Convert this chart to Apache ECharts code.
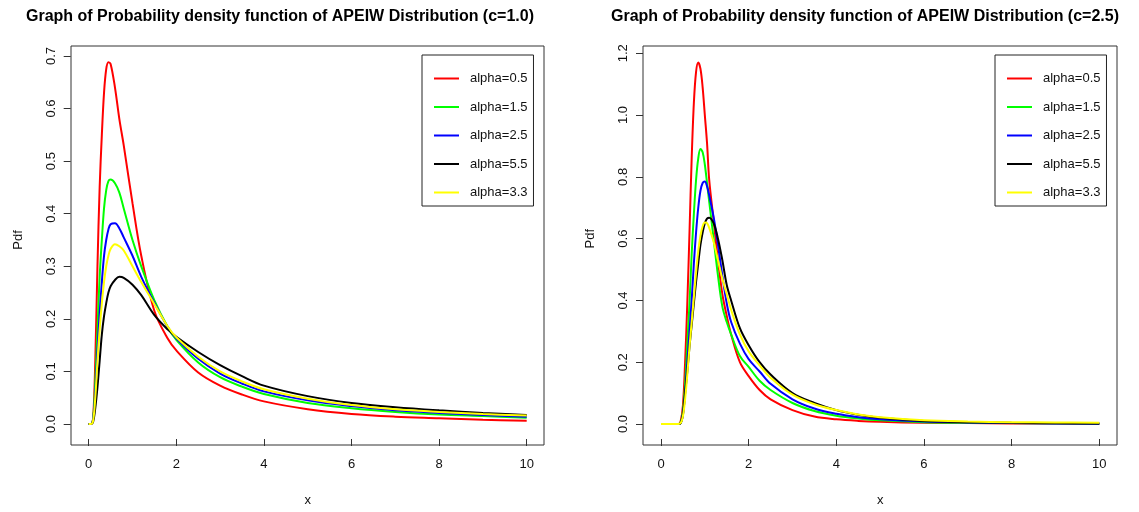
<!DOCTYPE html>
<html>
<head>
<meta charset="utf-8">
<script src="https://cdn.jsdelivr.net/npm/echarts@6/dist/echarts.min.js"></script>
<style>
  html, body { margin: 0; padding: 0; background: #fff; }
  #chart { width: 1139px; height: 512px; }
</style>
</head>
<body>
<div id="chart"></div>
<script>
// legend names / colours, same for both panels
const seriesNames = ['alpha=0.5', 'alpha=1.5', 'alpha=2.5', 'alpha=5.5', 'alpha=3.3']
const seriesColors = ['#ff0000', '#00ff00', '#0000ff', '#000000', '#ffff00']

// left panel (c=1.0)
const xLeft = [0, 0.05, 0.1, 0.15, 0.2, 0.25, 0.3, 0.35, 0.4, 0.45, 0.5, 0.6, 0.7, 0.8, 1.0, 1.2, 1.5, 1.8, 2, 2.5, 3, 3.5, 4, 5, 6, 7, 8, 9, 10]
const left05 = [0, 0, 0.01, 0.12, 0.3, 0.45, 0.55, 0.63, 0.675, 0.688, 0.685, 0.64, 0.58, 0.53, 0.42, 0.32, 0.215, 0.163, 0.14, 0.098, 0.073, 0.056, 0.043, 0.028, 0.019, 0.014, 0.011, 0.008, 0.006]
const left15 = [0, 0, 0.01, 0.08, 0.18, 0.28, 0.35, 0.41, 0.445, 0.462, 0.465, 0.458, 0.44, 0.41, 0.35, 0.3, 0.235, 0.185, 0.16, 0.117, 0.089, 0.071, 0.057, 0.04, 0.03, 0.023, 0.018, 0.015, 0.012]
const left25 = [0, 0, 0.008, 0.06, 0.14, 0.21, 0.27, 0.32, 0.35, 0.37, 0.38, 0.382, 0.372, 0.355, 0.32, 0.28, 0.23, 0.185, 0.163, 0.124, 0.096, 0.077, 0.062, 0.045, 0.034, 0.026, 0.021, 0.017, 0.014]
const left55 = [0, 0, 0.004, 0.03, 0.07, 0.12, 0.17, 0.205, 0.23, 0.25, 0.262, 0.274, 0.28, 0.278, 0.265, 0.245, 0.207, 0.18, 0.166, 0.137, 0.112, 0.091, 0.073, 0.053, 0.04, 0.032, 0.026, 0.021, 0.017]
const left33 = [0, 0, 0.006, 0.05, 0.12, 0.18, 0.23, 0.27, 0.3, 0.32, 0.333, 0.342, 0.338, 0.33, 0.3, 0.27, 0.228, 0.186, 0.165, 0.128, 0.1, 0.081, 0.066, 0.048, 0.036, 0.028, 0.023, 0.019, 0.016]

// right panel (c=2.5)
const xRight = [0, 0.3, 0.4, 0.45, 0.5, 0.55, 0.6, 0.65, 0.7, 0.75, 0.8, 0.85, 0.9, 0.95, 1.0, 1.05, 1.1, 1.2, 1.3, 1.4, 1.5, 1.6, 1.8, 2.0, 2.25, 2.5, 3, 3.5, 4, 4.5, 5, 6, 7, 8, 9, 10]
const right05 = [0, 0, 0, 0.01, 0.06, 0.2, 0.39, 0.62, 0.86, 1.04, 1.14, 1.17, 1.15, 1.09, 1.0, 0.91, 0.79, 0.66, 0.53, 0.42, 0.35, 0.29, 0.2, 0.155, 0.11, 0.08, 0.045, 0.024, 0.015, 0.01, 0.007, 0.004, 0.003, 0.002, 0.001, 0.001]
const right15 = [0, 0, 0, 0.005, 0.04, 0.13, 0.26, 0.39, 0.55, 0.68, 0.79, 0.86, 0.89, 0.88, 0.84, 0.78, 0.72, 0.6, 0.48, 0.38, 0.33, 0.29, 0.22, 0.185, 0.14, 0.11, 0.068, 0.042, 0.027, 0.018, 0.012, 0.006, 0.004, 0.003, 0.002, 0.001]
const right25 = [0, 0, 0, 0.003, 0.03, 0.1, 0.2, 0.3, 0.4, 0.52, 0.62, 0.7, 0.755, 0.78, 0.785, 0.77, 0.74, 0.67, 0.58, 0.48, 0.39, 0.33, 0.26, 0.21, 0.17, 0.13, 0.08, 0.05, 0.033, 0.022, 0.015, 0.008, 0.005, 0.003, 0.002, 0.001]
const right55 = [0, 0, 0, 0.003, 0.03, 0.1, 0.17, 0.25, 0.32, 0.39, 0.46, 0.52, 0.58, 0.62, 0.65, 0.665, 0.668, 0.65, 0.6, 0.53, 0.45, 0.4, 0.31, 0.255, 0.2, 0.16, 0.1, 0.068, 0.045, 0.03, 0.02, 0.01, 0.006, 0.004, 0.003, 0.002]
const right33 = [0, 0, 0, 0.003, 0.025, 0.08, 0.16, 0.25, 0.33, 0.41, 0.49, 0.56, 0.61, 0.64, 0.652, 0.65, 0.635, 0.59, 0.53, 0.47, 0.42, 0.37, 0.29, 0.235, 0.19, 0.15, 0.095, 0.064, 0.045, 0.031, 0.022, 0.012, 0.008, 0.006, 0.005, 0.004]

const leftSets = [left05, left15, left25, left55, left33]
const rightSets = [right05, right15, right25, right55, right33]

const chart = echarts.init(document.getElementById('chart'))

const font = 'Liberation Sans, Arial, sans-serif'
const textColor = '#111'

const makeSeries = (xs, sets, gridNo) =>
  sets.map((ys, i) => ({
    name: seriesNames[i],
    type: 'line',
    xAxisIndex: gridNo,
    yAxisIndex: gridNo,
    data: xs.map((x, k) => [x, ys[k]]),
    smooth: 0.35,
    showSymbol: false,
    symbol: 'none',
    color: seriesColors[i],
    lineStyle: { width: 2, color: seriesColors[i] },
    emphasis: { disabled: true },
  }))

// axis line kept (for tick placement) but invisible: the plot box draws that edge
const valueXAxis = (gridIndex) => ({
  type: 'value',
  gridIndex,
  min: 0,
  max: 10,
  interval: 2,
  offset: 15,
  name: 'x',
  nameLocation: 'middle',
  nameGap: 55,
  nameTextStyle: { fontFamily: font, fontSize: 13, color: textColor },
  axisLine: { show: true, onZero: false, lineStyle: { color: '#333', width: 1, opacity: 0 } },
  axisTick: { show: true, length: 7, lineStyle: { color: '#333' } },
  axisLabel: { fontFamily: font, fontSize: 13, color: textColor, margin: 19 },
  splitLine: { show: false },
})

const valueYAxis = (gridIndex, max, interval) => ({
  type: 'value',
  gridIndex,
  min: 0,
  max,
  interval,
  offset: 18,
  name: 'Pdf',
  nameLocation: 'middle',
  nameGap: 46,
  nameTextStyle: { fontFamily: font, fontSize: 13, color: textColor },
  axisLine: { show: true, onZero: false, lineStyle: { color: '#333', width: 1, opacity: 0 } },
  axisTick: { show: true, length: 7, lineStyle: { color: '#333' } },
  axisLabel: {
    fontFamily: font,
    fontSize: 13,
    color: textColor,
    rotate: 90,
    margin: 13,
    formatter: (v) => v.toFixed(1),
  },
  splitLine: { show: false },
})

const hiddenAxis = (gridIndex) => ({ type: 'value', gridIndex, show: false, min: 0, max: 1 })

const legendBox = (left) => ({
  data: seriesNames,
  orient: 'vertical',
  left,
  top: 55,
  padding: [17, 6, 7, 12],
  itemGap: 15.5,
  itemWidth: 25,
  itemHeight: 2,
  icon: 'rect',
  selectedMode: false,
  borderColor: '#222',
  borderWidth: 1,
  borderRadius: 0,
  textStyle: { fontFamily: font, fontSize: 13, color: textColor, padding: [0, 0, 0, 6] },
})

const titleStyle = { fontFamily: font, fontSize: 16, fontWeight: 'bold', color: '#000' }

const option = {
  animation: false,
  backgroundColor: '#fff',
  title: [
    {
      text: 'Graph of Probability density function of APEIW Distribution (c=1.0)',
      left: 275,
      top: 4,
      textAlign: 'center',
      textStyle: titleStyle,
    },
    {
      text: 'Graph of Probability density function of APEIW Distribution (c=2.5)',
      left: 860,
      top: 4,
      textAlign: 'center',
      textStyle: titleStyle,
    },
  ],
  legend: [legendBox(422), legendBox(995)],
  grid: [
    // data areas
    { left: 88.7, top: 56, width: 438, height: 374 },
    { left: 661, top: 53.3, width: 438.3, height: 376.7 },
    // plot boxes
    { left: 71, top: 46, width: 473, height: 399, show: true, borderColor: '#333', borderWidth: 1, backgroundColor: 'transparent' },
    { left: 643, top: 46, width: 474, height: 399, show: true, borderColor: '#333', borderWidth: 1, backgroundColor: 'transparent' },
  ],
  xAxis: [valueXAxis(0), valueXAxis(1), hiddenAxis(2), hiddenAxis(3)],
  yAxis: [valueYAxis(0, 0.7, 0.1), valueYAxis(1, 1.2, 0.2), hiddenAxis(2), hiddenAxis(3)],
  series: [...makeSeries(xLeft, leftSets, 0), ...makeSeries(xRight, rightSets, 1)],
}

chart.setOption(option)
</script>
</body>
</html>
